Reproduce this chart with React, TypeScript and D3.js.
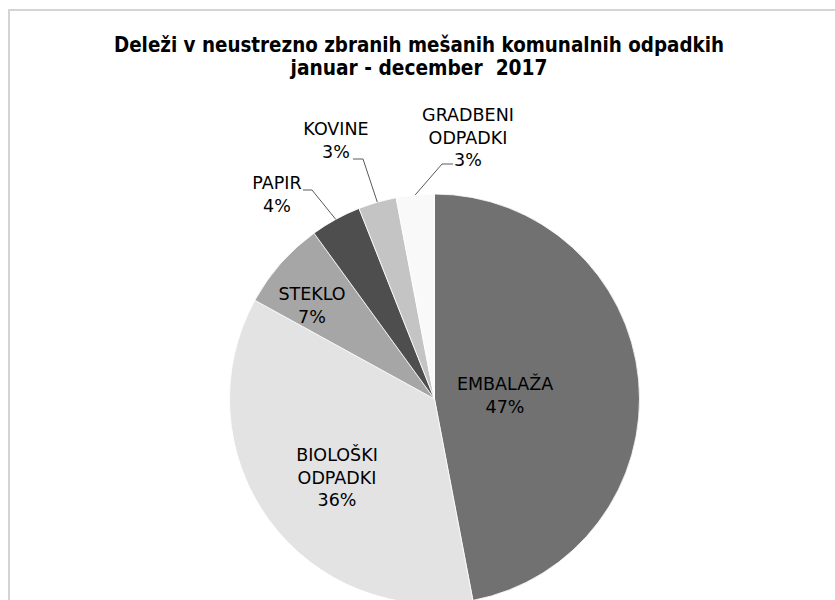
import React from "react";
import * as d3 from "d3";

const categories = ["EMBALAŽA", "BIOLOŠKI ODPADKI", "STEKLO", "PAPIR", "KOVINE", "GRADBENI ODPADKI"];
const values = [47, 36, 7, 4, 3, 3];
const colors = ["#717171", "#e3e3e3", "#a6a6a6", "#4e4e4e", "#c4c4c4", "#f9f9f9"];
const labelLines = [["EMBALAŽA"], ["BIOLOŠKI", "ODPADKI"], ["STEKLO"], ["PAPIR"], ["KOVINE"], ["GRADBENI", "ODPADKI"]];
const titleLines = ["Deleži v neustrezno zbranih mešanih komunalnih odpadkih", "januar - december  2017"];

// layout (label text centre x, first baseline y, optional leader: start x, elbow x, y)
const labelLayout = [
  { x: 505, y: 390 },
  { x: 337, y: 461 },
  { x: 312, y: 300 },
  { x: 277, y: 189, leader: { x0: 303, x1: 312, y: 190 } },
  { x: 336, y: 135, leader: { x0: 353, x1: 363, y: 159 } },
  { x: 468, y: 121, leader: { x0: 453, x1: 442, y: 164 } },
];

const W = 835;
const H = 600;
const cx = 434.5;
const cy = 399;
const R = 205;
const lineH = 22.5;

export default function App() {
  const pie = d3.pie<number>().sort(null).value((d) => d)(values);
  const arc = d3.arc<d3.PieArcDatum<number>>().innerRadius(0).outerRadius(R);
  const total = d3.sum(values);

  return (
    <svg width={W} height={H} style={{ position: "absolute", left: 0, top: 0, background: "#fff" }}>
      <rect x={9} y={10} width={W} height={H} fill="#fff" stroke="#d4d4d4" strokeWidth={2} />
      <g fontFamily="'DejaVu Sans', Verdana, sans-serif" fontWeight="bold" fontSize={20.5} fill="#000" textAnchor="middle">
        <text x={419} y={52} textLength={610} lengthAdjust="spacingAndGlyphs" style={{ whiteSpace: "pre" }}>
          {titleLines[0]}
        </text>
        <text x={419} y={75} textLength={257} lengthAdjust="spacingAndGlyphs" style={{ whiteSpace: "pre" }}>
          {titleLines[1]}
        </text>
      </g>
      <g transform={`translate(${cx},${cy})`}>
        {pie.map((p, i) => (
          <path key={categories[i]} d={arc(p) || ""} fill={colors[i]} stroke="#ffffff" strokeWidth={0.8} />
        ))}
      </g>
      {pie.map((p, i) => {
        const lay = labelLayout[i];
        if (!lay.leader) return null;
        const mid = (p.startAngle + p.endAngle) / 2;
        const ax = cx + R * Math.sin(mid);
        const ay = cy - R * Math.cos(mid);
        const l = lay.leader;
        return (
          <polyline
            key={"l" + i}
            points={`${l.x0},${l.y} ${l.x1},${l.y} ${ax},${ay}`}
            fill="none"
            stroke="#5a5a5a"
            strokeWidth={1}
          />
        );
      })}
      <g fontFamily="'DejaVu Sans', Verdana, sans-serif" fontSize={17.5} fill="#000" textAnchor="middle">
        {labelLayout.map((lay, i) => {
          const lines = [...labelLines[i], `${Math.round((values[i] / total) * 100)}%`];
          return lines.map((t, j) => (
            <text key={i + "-" + j} x={lay.x} y={lay.y + j * lineH}>
              {t}
            </text>
          ));
        })}
      </g>
    </svg>
  );
}
